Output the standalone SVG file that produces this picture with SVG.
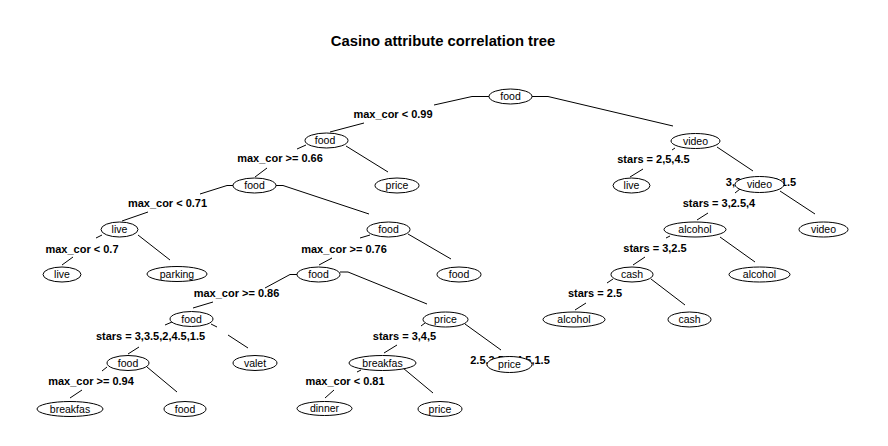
<svg xmlns="http://www.w3.org/2000/svg" width="888" height="446" viewBox="0 0 888 446">
<style>
.e{fill:none;stroke:#000;stroke-width:1}
.lb{font-family:"Liberation Sans",Arial,sans-serif;font-size:11px;font-weight:bold;fill:#000;text-anchor:middle}
.n ellipse{fill:#fff;stroke:#000;stroke-width:1}
.n text{font-family:"Liberation Sans",Arial,sans-serif;font-size:10.5px;fill:#000;text-anchor:middle}
.t{font-family:"Liberation Sans",Arial,sans-serif;font-size:14.8px;font-weight:bold;fill:#000;text-anchor:middle}
</style>
<rect width="888" height="446" fill="#fff"/>
<text class="t" x="443" y="46">Casino attribute correlation tree</text>
<g id="connectors">
<path class="e" d="M489,96.5H472L434,105M364,123L330,132"/>
<path class="e" d="M532,96.5H548L673,126"/>
<path class="e" d="M306,145L297,149M267,168L255,177"/>
<path class="e" d="M346,146L388,172"/>
<path class="e" d="M276,185.5H283L369,214"/>
<path class="e" d="M233,185.5H227L200,194M148,212L122,221"/>
<path class="e" d="M102,235L96,238M73,257L62,265"/>
<path class="e" d="M138,235L170,260"/>
<path class="e" d="M370,235L360,238M332,258L319,265"/>
<path class="e" d="M408,234L451,259"/>
<path class="e" d="M297,274.5H290L265,288M213,302L193,308"/>
<path class="e" d="M340,272H348L427,304"/>
<path class="e" d="M172,322L165,325M139,347L128,354"/>
<path class="e" d="M211,324L217,327M228,335L248,348"/>
<path class="e" d="M107,367L102,371M82,390L70,398"/>
<path class="e" d="M147,367L177,392"/>
<path class="e" d="M425,323L421,326M397,345L384,353"/>
<path class="e" d="M465,324L501,350"/>
<path class="e" d="M361,370L357,372M334,390L325,398"/>
<path class="e" d="M403,368L433,393"/>
<path class="e" d="M675,148L672,150M643,169L630,177"/>
<path class="e" d="M717,147L753,171"/>
<path class="e" d="M740,189L735,193M708,213L697,220"/>
<path class="e" d="M780,191L815,214"/>
<path class="e" d="M670,236L666,238M645,257L633,265"/>
<path class="e" d="M720,237L755,262"/>
<path class="e" d="M613,279L607,283M586,303L575,310"/>
<path class="e" d="M651,279L685,305"/>
</g>
<g id="labels">
<text class="lb" x="393" y="118">max_cor &lt; 0.99</text>
<text class="lb" x="280" y="162">max_cor &gt;= 0.66</text>
<text class="lb" x="167.5" y="207">max_cor &lt; 0.71</text>
<text class="lb" x="82" y="253">max_cor &lt; 0.7</text>
<text class="lb" x="344" y="253">max_cor &gt;= 0.76</text>
<text class="lb" x="236.5" y="297">max_cor &gt;= 0.86</text>
<text class="lb" x="150.5" y="340">stars = 3,3.5,2,4.5,1.5</text>
<text class="lb" x="91" y="385">max_cor &gt;= 0.94</text>
<text class="lb" x="404.5" y="340">stars = 3,4,5</text>
<text class="lb" x="345" y="385">max_cor &lt; 0.81</text>
<text class="lb" x="510" y="363.5">2.5,3.5,2,4.5,1.5</text>
<text class="lb" x="653.5" y="163">stars = 2,5,4.5</text>
<text class="lb" x="761" y="185.5">3,2.5,4,3.5,1.5</text>
<text class="lb" x="719" y="207">stars = 3,2.5,4</text>
<text class="lb" x="655" y="252">stars = 3,2.5</text>
<text class="lb" x="595" y="297">stars = 2.5</text>
</g>
<g id="n1" class="n"><ellipse cx="510.5" cy="96.5" rx="21.5" ry="7.5"/><text x="510.5" y="100.2">food</text></g>
<g id="n2" class="n"><ellipse cx="326.5" cy="140.5" rx="21.5" ry="7.5"/><text x="325" y="144.2">food</text></g>
<g id="n3" class="n"><ellipse cx="397" cy="185.5" rx="22" ry="7.5"/><text x="397" y="189.2">price</text></g>
<g id="n4" class="n"><ellipse cx="254.5" cy="185.5" rx="21.5" ry="7.5"/><text x="254.5" y="189.2">food</text></g>
<g id="n5" class="n"><ellipse cx="695.5" cy="141" rx="24.5" ry="7.5"/><text x="695.5" y="144.7">video</text></g>
<g id="n6" class="n"><ellipse cx="631.5" cy="185.5" rx="18.5" ry="7.5"/><text x="631.5" y="189.2">live</text></g>
<g id="n7" class="n"><ellipse cx="759.5" cy="184.5" rx="24.5" ry="8"/><text x="759.5" y="188.2">video</text></g>
<g id="n8" class="n"><ellipse cx="823.5" cy="229.5" rx="24.5" ry="7.5"/><text x="823.5" y="233.2">video</text></g>
<g id="n9" class="n"><ellipse cx="695" cy="229.5" rx="31" ry="7.5"/><text x="695" y="233.2">alcohol</text></g>
<g id="n10" class="n"><ellipse cx="759.5" cy="274.5" rx="30.5" ry="7.5"/><text x="759.5" y="278.2">alcohol</text></g>
<g id="n11" class="n"><ellipse cx="632" cy="274.5" rx="21" ry="7.5"/><text x="632" y="278.2">cash</text></g>
<g id="n12" class="n"><ellipse cx="574" cy="319.5" rx="31" ry="7.5"/><text x="574" y="323.2">alcohol</text></g>
<g id="n13" class="n"><ellipse cx="689.5" cy="319.5" rx="21.5" ry="7.5"/><text x="689.5" y="323.2">cash</text></g>
<g id="n14" class="n"><ellipse cx="119.5" cy="229.5" rx="18.5" ry="7.5"/><text x="119.5" y="233.2">live</text></g>
<g id="n15" class="n"><ellipse cx="62" cy="274.5" rx="19" ry="7.5"/><text x="62" y="278.2">live</text></g>
<g id="n16" class="n"><ellipse cx="177" cy="274" rx="30" ry="7.5"/><text x="177" y="277.7">parking</text></g>
<g id="n17" class="n"><ellipse cx="388.5" cy="229.5" rx="21.5" ry="7.5"/><text x="388.5" y="233.2">food</text></g>
<g id="n18" class="n"><ellipse cx="318.5" cy="274.5" rx="21.5" ry="7.5"/><text x="318.5" y="278.2">food</text></g>
<g id="n19" class="n"><ellipse cx="459" cy="274.5" rx="22" ry="7.5"/><text x="459" y="278.2">food</text></g>
<g id="n20" class="n"><ellipse cx="191.5" cy="319" rx="21.5" ry="7.5"/><text x="191.5" y="322.7">food</text></g>
<g id="n21" class="n"><ellipse cx="255" cy="363" rx="22" ry="7.5"/><text x="255" y="366.7">valet</text></g>
<g id="n22" class="n"><ellipse cx="128" cy="363" rx="21" ry="7.5"/><text x="128" y="366.7">food</text></g>
<g id="n23" class="n"><ellipse cx="70" cy="409" rx="33" ry="7.5"/><text x="70" y="412.7">breakfas</text></g>
<g id="n24" class="n"><ellipse cx="185" cy="409" rx="21" ry="7.5"/><text x="185" y="412.7">food</text></g>
<g id="n25" class="n"><ellipse cx="445.5" cy="319.5" rx="22.5" ry="7.5"/><text x="445.5" y="323.2">price</text></g>
<g id="n26" class="n"><ellipse cx="382.5" cy="363" rx="33.5" ry="7.5"/><text x="382.5" y="366.7">breakfas</text></g>
<g id="n27" class="n"><ellipse cx="509.5" cy="364.5" rx="22.5" ry="8"/><text x="509.5" y="368.2">price</text></g>
<g id="n28" class="n"><ellipse cx="324.5" cy="408.5" rx="27.5" ry="7"/><text x="324.5" y="412.2">dinner</text></g>
<g id="n29" class="n"><ellipse cx="440" cy="409" rx="22" ry="7.5"/><text x="440" y="412.7">price</text></g>
</svg>
